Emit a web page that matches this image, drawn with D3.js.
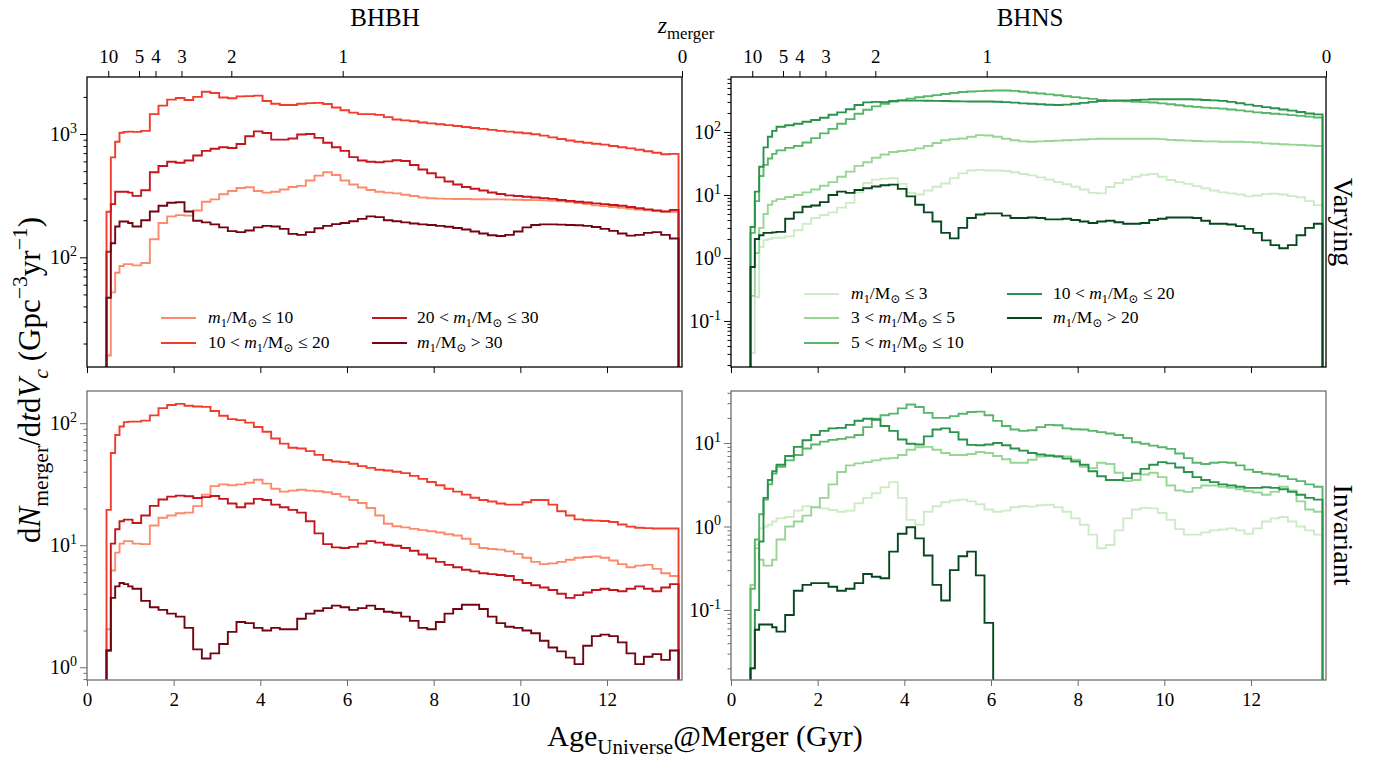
<!DOCTYPE html>
<html>
<head>
<meta charset="utf-8">
<script src="https://cdnjs.cloudflare.com/ajax/libs/d3/7.8.5/d3.min.js"></script>
<style>
body { margin: 0; background: #fff; }
</style>
</head>
<body>
<div id="chart"></div>
<script>
// histogram bin edges (Gyr), shared by every series
var binEdges = [0.45, 0.55, 0.65, 0.75, 0.85, 0.95, 1.05, 1.25, 1.45, 1.65, 1.85, 2.05, 2.25, 2.45, 2.65, 2.85,
    3.05, 3.25, 3.45, 3.65, 3.85, 4.05, 4.25, 4.45, 4.65, 4.85, 5.05, 5.25, 5.45, 5.65, 5.85, 6.05, 6.25, 6.45,
    6.65, 6.85, 7.05, 7.25, 7.45, 7.65, 7.85, 8.05, 8.25, 8.45, 8.65, 8.85, 9.05, 9.25, 9.45, 9.65, 9.85, 10.05,
    10.25, 10.45, 10.65, 10.85, 11.05, 11.25, 11.45, 11.65, 11.85, 12.05, 12.25, 12.45, 12.65, 12.85, 13.05,
    13.25, 13.45, 13.65];

var xTicks = [0, 2, 4, 6, 8, 10, 12];
var zTickAges = [0.49, 1.2, 1.58, 2.18, 3.33, 5.9, 13.73];
var zTickLabels = ["10", "5", "4", "3", "2", "1", "0"];

// BHBH, varying
var bhbhVarLe10 = [16, 52, 75, 85, 88, 88, 86, 90, 140, 190,
    215, 220, 218, 240, 282, 295, 325, 345, 365, 370,
    345, 335, 340, 355, 372, 380, 420, 460, 490, 465,
    420, 390, 368, 352, 340, 335, 330, 322, 314, 306,
    301, 299, 298, 297, 297, 296, 296, 295, 295, 294,
    293, 292, 291, 290, 288, 285, 281, 276, 270, 264,
    260, 256, 252, 248, 244, 241, 238, 235, 234];
var bhbhVar10to20 = [234, 647, 866, 1025, 1040, 1045, 1040, 1060, 1450, 1700,
    1900, 1960, 1890, 2000, 2200, 2150, 1980, 1950, 2020, 2030,
    2050, 1850, 1760, 1720, 1720, 1760, 1780, 1790, 1750, 1640,
    1560, 1490, 1450, 1450, 1430, 1370, 1310, 1290, 1270, 1240,
    1220, 1200, 1180, 1160, 1140, 1120, 1100, 1080, 1060, 1045,
    1030, 1015, 995, 970, 940, 910, 885, 865, 850, 835,
    820, 800, 780, 765, 745, 725, 705, 685, 690];
var bhbhVar20to30 = [111, 270, 340, 340, 340, 335, 315, 350, 490, 550,
    596, 585, 610, 670, 730, 760, 780, 770, 830, 960,
    1050, 1020, 900, 900, 920, 990, 1000, 930, 850, 780,
    730, 650, 610, 596, 590, 600, 612, 605, 560, 515,
    480, 445, 412, 390, 372, 360, 348, 336, 326, 318,
    314, 310, 306, 302, 298, 292, 287, 282, 278, 274,
    270, 266, 262, 256, 250, 245, 240, 235, 242];
var bhbhVarGt30 = [47, 130, 178, 195, 195, 190, 178, 200, 235, 262,
    277, 280, 235, 198, 192, 185, 175, 163, 160, 165,
    175, 180, 178, 170, 155, 152, 160, 172, 180, 186,
    190, 196, 205, 215, 212, 200, 196, 192, 188, 185,
    183, 180, 177, 173, 168, 162, 156, 151, 149, 152,
    162, 175, 183, 185, 185, 184, 183, 182, 180, 176,
    170, 164, 156, 150, 152, 158, 160, 152, 142];

// BHBH, invariant
var bhbhInvLe10 = [2.05, 6.2, 8.7, 10.3, 10.8, 10.8, 10.3, 10.2, 14.5, 16.8,
    17.5, 18.3, 18.5, 20.9, 26, 30.5, 31.5, 31, 31.5, 32.5,
    34.4, 32, 29, 27.5, 28, 28.5, 28, 27.7, 27.2, 26.3,
    25, 23.5, 22.2, 20.2, 17.5, 15, 14.3, 14.0, 13.6, 13.3,
    13, 12.7, 12.3, 12, 11.3, 10.2, 9.5, 9.3, 9.2, 8.9,
    8.5, 7.9, 7.3, 7.0, 7.1, 7.3, 7.6, 7.9, 8.0, 8.1,
    7.9, 7.5, 7.0, 6.6, 6.8, 6.9, 6.4, 5.9, 5.6];
var bhbhInv10to20 = [19.5, 57, 80, 94, 102, 103, 103, 105, 116, 133,
    141, 144, 139, 137, 136, 126, 115, 108, 106, 101,
    93, 85, 75, 68, 63, 62, 59, 55, 50, 48.5,
    48, 46.5, 44.5, 43, 41.6, 41, 40, 39, 37, 35,
    33, 31, 29, 27.5, 26, 24.5, 23.5, 22.8, 22, 21.5,
    21.5, 22.5, 23.5, 23.5, 21.5, 19, 17.5, 16.3, 16, 15.9,
    15.8, 15.5, 14.8, 14.2, 13.9, 13.8, 13.7, 13.7, 13.7];
var bhbhInv20to30 = [1.37, 10.3, 13.5, 15.7, 16.2, 16.2, 15.2, 17.5, 21, 23.7,
    25, 25.5, 25.2, 24.4, 24.8, 25.3, 24, 22, 20.5, 22,
    24, 23.5, 21.5, 20.5, 19.5, 18.5, 15.7, 12.5, 10.2, 9.6,
    9.5, 9.7, 10.3, 10.8, 10.5, 10.1, 9.9, 9.5, 9.0, 8.4,
    7.8, 7.3, 6.9, 6.6, 6.3, 6.1, 5.9, 5.8, 5.7, 5.6,
    5.2, 4.9, 4.7, 4.5, 4.3, 4.0, 3.7, 3.9, 4.1, 4.3,
    4.4, 4.3, 4.2, 4.4, 4.6, 4.4, 4.2, 4.5, 4.8];
var bhbhInvGt30 = [1.37, 3.7, 4.6, 4.9, 4.8, 4.6, 4.4, 3.5, 3.1, 2.95,
    2.75, 2.6, 2.1, 1.4, 1.18, 1.3, 1.55, 1.95, 2.35, 2.3,
    2.1, 2.0, 2.1, 2.05, 2.05, 2.5, 2.75, 2.9, 3.05, 3.2,
    3.1, 2.95, 3.05, 3.2, 3.0, 2.85, 2.8, 2.6, 2.4, 2.1,
    2.05, 2.35, 2.75, 3.0, 3.25, 3.25, 3.0, 2.6, 2.3, 2.15,
    2.1, 2.0, 1.9, 1.65, 1.45, 1.35, 1.2, 1.06, 1.5, 1.8,
    1.85, 1.8, 1.6, 1.3, 1.06, 1.22, 1.28, 1.15, 1.37];

// BHNS, varying
var bhnsVarLe3 = [0.031, 0.24, 1.5, 1.93, 2.0, 2.1, 2.1, 2.2, 2.75, 3.5,
    4.3, 4.8, 5.3, 6.3, 7.5, 11, 15.5, 17.5, 18.2, 18.5,
    15, 10.8, 10.2, 11.8, 13.5, 15.2, 18.5, 22, 24.5, 25,
    24.5, 24.5, 24, 23, 21.5, 20.5, 19, 17.5, 16, 14.8,
    13.5, 12.2, 10.8, 10.6, 13.4, 15.5, 17.5, 19.5, 21, 21.5,
    19.5, 17.3, 16, 15, 13.8, 12.8, 11.8, 11, 10.6, 10.2,
    9.5, 9.8, 10.3, 10.5, 10.2, 9.6, 9.2, 8.0, 6.9];
var bhnsVar3to5 = [0.25, 1.2, 3.0, 5.0, 7.0, 8.0, 8.6, 9.3, 10, 11,
    12.2, 14, 16, 19.5, 23.5, 29, 33, 39, 44, 48,
    50, 51.5, 55, 60, 67, 74, 77, 79, 84, 89,
    88, 84, 78, 74, 71, 70, 71, 72, 73, 74,
    75, 76, 77, 78, 78, 78, 78, 78, 78, 78,
    77, 75, 74, 73, 72, 71, 71, 70, 70, 70,
    69, 68, 66, 65, 64, 63, 62, 61, 60];
var bhnsVar5to10 = [2.5, 8, 20, 30, 38, 45, 51, 56, 60, 68,
    80, 95, 112, 135, 160, 195, 225, 255, 280, 305,
    320, 338, 355, 370, 385, 400, 415, 430, 440, 445,
    452, 455, 455, 450, 435, 420, 408, 395, 383, 370,
    358, 345, 335, 322, 315, 312, 307, 302, 298, 294,
    285, 275, 265, 256, 250, 244, 239, 235, 228, 220,
    212, 205, 200, 195, 190, 185, 180, 175, 170];
var bhnsVar10to20 = [3.1, 11.3, 28, 57, 84, 104, 121, 128, 135, 145,
    155, 168, 188, 205, 230, 268, 295, 300, 298, 310,
    315, 315, 315, 314, 312, 310, 308, 306, 305, 305,
    304, 302, 298, 292, 285, 280, 275, 270, 268, 272,
    280, 290, 300, 310, 314, 316, 318, 322, 326, 330,
    331, 331, 330, 330, 328, 322, 318, 312, 300, 286,
    272, 260, 248, 238, 228, 218, 208, 197, 190];
var bhnsVarGt20 = [0.72, 2.0, 2.3, 2.5, 2.5, 2.55, 2.6, 4.2, 5.3, 6.5,
    6.8, 7.7, 10, 11.3, 10.8, 12, 12.8, 13.6, 14.3, 14.6,
    12.5, 9.5, 7.0, 5.3, 3.8, 2.5, 2.05, 3.0, 4.3, 4.9,
    5.1, 5.1, 4.7, 4.3, 4.3, 4.4, 4.3, 4.1, 4.1, 4.2,
    4.0, 3.8, 3.6, 3.8, 3.9, 3.7, 3.5, 3.5, 3.6, 4.0,
    4.2, 4.4, 4.4, 4.4, 4.3, 3.9, 3.5, 3.5, 3.4, 3.2,
    2.9, 2.5, 1.9, 1.6, 1.43, 1.6, 2.3, 3.0, 3.5];

// BHNS, invariant
var bhnsInvLe3 = [0.2, 0.6, 0.95, 1.0, 1.05, 1.15, 1.25, 1.3, 1.55, 1.75,
    1.72, 1.65, 1.58, 1.5, 1.55, 1.9, 2.2, 2.5, 2.95, 3.4,
    2.2, 1.2, 1.05, 1.5, 1.75, 1.95, 2.05, 2.1, 2.0, 1.85,
    1.6, 1.5, 1.55, 1.7, 1.75, 1.73, 1.8, 1.82, 1.7, 1.5,
    1.25, 1.05, 0.8, 0.55, 0.6, 0.9, 1.25, 1.6, 1.67, 1.65,
    1.45, 1.2, 0.93, 0.8, 0.8, 0.85, 0.9, 0.92, 0.95, 0.9,
    0.82, 0.95, 1.15, 1.25, 1.3, 1.15, 1.0, 0.9, 0.8];
var bhnsInv3to5 = [0.2, 0.55, 0.4, 0.34, 0.34, 0.4, 0.7, 1.0, 1.15, 1.35,
    1.7, 2.2, 3.2, 4.5, 5.4, 5.7, 5.9, 6.2, 6.5, 6.6,
    7.2, 8.3, 8.9, 9.0, 8.3, 7.6, 7.2, 7.2, 7.4, 7.8,
    7.6, 7.0, 6.4, 5.8, 5.8, 6.3, 6.9, 7.0, 7.0, 6.9,
    6.3, 5.2, 5.0, 5.8, 5.6, 4.4, 3.5, 3.6, 4.2, 4.4,
    3.9, 3.1, 2.7, 2.6, 2.9, 3.1, 3.1, 3.0, 2.9, 2.8,
    2.65, 2.55, 2.4, 2.6, 3.0, 2.7, 2.0, 1.6, 1.5];
var bhnsInv5to10 = [0.18, 0.7, 1.4, 2.1, 3.2, 4.3, 5.2, 6.2, 7.2, 8.6,
    9.6, 10.4, 10.9, 11.2, 11.7, 12.5, 15.5, 19.5, 21.5, 22.5,
    26, 29, 27, 23, 20, 20, 21, 22.4, 23.5, 23.8,
    21.5, 18.4, 16, 14.5, 14, 14.2, 15.5, 16.5, 16.3, 15,
    14.6, 14.5, 14, 13.5, 13, 12.5, 11.5, 10.2, 9.8, 9.3,
    8.9, 8.5, 7.5, 6.6, 5.8, 5.6, 5.8, 5.9, 5.8, 5.4,
    4.8, 4.5, 4.3, 4.2, 4.0, 3.7, 3.5, 3.2, 3.0];
var bhnsInv10to20 = [0.02, 0.1, 0.66, 2.2, 3.6, 4.6, 5.5, 7.0, 9.0, 10.8,
    12.5, 14, 15, 15.2, 16.5, 18.5, 19.5, 19, 16, 14,
    11, 9.8, 9.6, 12, 14.5, 15, 13.5, 11, 9.5, 9.4,
    9.6, 10, 9.4, 8.6, 8.1, 7.6, 7.3, 7.1, 6.9, 6.5,
    6.0, 5.5, 4.6, 4.0, 3.6, 3.6, 3.8, 4.3, 4.9, 5.5,
    5.9, 5.7, 5.1, 4.5, 3.9, 3.6, 3.4, 3.2, 3.1, 3.0,
    2.9, 2.9, 2.95, 2.9, 2.8, 2.6, 2.4, 2.2, 2.1];
var bhnsInvGt20 = [0.02, 0.058, 0.067, 0.067, 0.067, 0.062, 0.055, 0.087, 0.17, 0.2,
    0.21, 0.21, 0.19, 0.17, 0.18, 0.21, 0.27, 0.25, 0.24, 0.5,
    0.82, 0.98, 0.72, 0.45, 0.2, 0.13, 0.3, 0.44, 0.5, 0.26,
    0.07];

var bhbhBounds = [[null, 10], [10, 20], [20, 30], [30, null]];
var bhnsBounds = [[null, 3], [3, 5], [5, 10], [10, 20], [20, null]];
var redColors = ["#fc8b6b", "#f03d2d", "#c4161c", "#730410"];
var greenColors = ["#cdebc6", "#98d594", "#57b668", "#2a924a", "#07471f"];

var ctx = {
    w: 1375,
    h: 765
};
var font = '"Liberation Serif", "DejaVu Serif", serif';

var panels = [
    {id: "tl", x0: 87, y0: 77, w: 595, h: 290, ydom: [12.9, 2900], frame: "#000", top: true, labels: false,
        series: [bhbhVarLe10, bhbhVar10to20, bhbhVar20to30, bhbhVarGt30], colors: redColors,
        legend: {bounds: bhbhBounds, cols: [[74, 121], [285, 330]], rows: [241, 266], perCol: 2}},
    {id: "bl", x0: 87, y0: 391, w: 595, h: 289, ydom: [0.786, 183.6], frame: "#6e6e6e", top: false, labels: true,
        series: [bhbhInvLe10, bhbhInv10to20, bhbhInv20to30, bhbhInvGt30], colors: redColors},
    {id: "tr", x0: 731, y0: 77, w: 595, h: 290, ydom: [0.0186, 746], frame: "#000", top: true, labels: false,
        series: [bhnsVarLe3, bhnsVar3to5, bhnsVar5to10, bhnsVar10to20, bhnsVarGt20], colors: greenColors,
        legend: {bounds: bhnsBounds, cols: [[73, 120], [276, 322]], rows: [217, 241, 266], perCol: 3}},
    {id: "br", x0: 731, y0: 391, w: 595, h: 289, ydom: [0.0145, 42], frame: "#6e6e6e", top: false, labels: true,
        series: [bhnsInvLe3, bhnsInv3to5, bhnsInv5to10, bhnsInv10to20, bhnsInvGt20], colors: greenColors}
];

// append tspans with italics / sub / superscripts
var addRich = function (textSel, parts, size) {
    var off = 0;
    parts.forEach(function (p) {
        var target = p.sub ? size * 0.25 : (p.sup ? -size * 0.42 : 0);
        var ts = textSel.append("tspan").text(p.t).attr("dy", target - off);
        off = target;
        if (p.sub || p.sup) ts.attr("font-size", size * 0.7);
        if (p.it) ts.style("font-style", "italic");
    });
};

var massParts = function (b) {
    var parts = [];
    if (b[0] != null && b[1] != null) parts.push({t: b[0] + " < "});
    parts.push({t: "m", it: true}, {t: "1", sub: true}, {t: "/M"}, {t: "\u2299", sub: true});
    if (b[1] != null) parts.push({t: " \u2264 " + b[1]});
    else parts.push({t: " > " + b[0]});
    return parts;
};

var svg = d3.select("#chart").append("svg")
    .attr("width", ctx.w)
    .attr("height", ctx.h)
    .style("font-family", font);

var drawPanel = function (p) {
    var g = svg.append("g").attr("transform", "translate(" + p.x0 + "," + p.y0 + ")");
    var x = d3.scaleLinear().domain([0, 13.73]).range([0, p.w]);
    var y = d3.scaleLog().domain(p.ydom).range([p.h, 0]);

    g.append("clipPath").attr("id", "clip-" + p.id)
        .append("rect").attr("width", p.w).attr("height", p.h);

    var line = d3.line()
        .x(function (d) { return x(d[0]); })
        .y(function (d) { return d[1] > 0 ? y(d[1]) : p.h + 20; })
        .curve(d3.curveStepAfter);

    var lines = g.append("g").attr("clip-path", "url(#clip-" + p.id + ")");
    p.series.forEach(function (vals, k) {
        var pts = [[binEdges[0], 0]];
        vals.forEach(function (v, i) { pts.push([binEdges[i], v]); });
        pts.push([binEdges[vals.length], vals[vals.length - 1]]);
        pts.push([binEdges[vals.length], 0]);
        lines.append("path")
            .attr("d", line(pts))
            .attr("fill", "none")
            .attr("stroke", p.colors[k])
            .attr("stroke-width", 1.9)
            .attr("stroke-linejoin", "miter");
    });

    // y ticks
    var lo = Math.floor(Math.log10(p.ydom[0])), hi = Math.ceil(Math.log10(p.ydom[1]));
    var majors = [], minors = [];
    for (var e = lo; e <= hi; e++) {
        var base = Math.pow(10, e);
        if (base >= p.ydom[0] && base <= p.ydom[1]) majors.push(e);
        for (var m = 2; m < 10; m++) {
            var v = m * base;
            if (v >= p.ydom[0] && v <= p.ydom[1]) minors.push(v);
        }
    }
    var yMinor = g.append("g").call(d3.axisLeft(y).tickValues(minors).tickSize(3.5).tickFormat(""));
    var yMajor = g.append("g").call(d3.axisLeft(y).tickValues(majors.map(function (e) { return Math.pow(10, e); }))
        .tickSize(7).tickFormat(""));
    [yMinor, yMajor].forEach(function (a) {
        a.select(".domain").remove();
        a.selectAll("line").attr("stroke", p.frame);
    });
    majors.forEach(function (e) {
        var t = g.append("text")
            .attr("x", -10).attr("y", y(Math.pow(10, e)) + 7)
            .attr("text-anchor", "end")
            .attr("font-size", 20);
        addRich(t, [{t: "10"}, {t: String(e), sup: true}], 20);
    });

    // x ticks
    var xa = g.append("g").attr("transform", "translate(0," + p.h + ")")
        .call(d3.axisBottom(x).tickValues(xTicks).tickSize(6).tickPadding(7)
            .tickFormat(p.labels ? d3.format("d") : ""));
    xa.select(".domain").remove();
    xa.selectAll("line").attr("stroke", p.frame);
    xa.selectAll("text").attr("font-size", 19).attr("font-family", font).attr("fill", "#000");

    if (p.top) {
        var za = g.append("g")
            .call(d3.axisTop(x).tickValues(zTickAges).tickSize(6).tickPadding(8)
                .tickFormat(function (d, i) { return zTickLabels[i]; }));
        za.select(".domain").remove();
        za.selectAll("text").attr("font-size", 19).attr("font-family", font);
    }

    g.append("rect")
        .attr("width", p.w).attr("height", p.h)
        .attr("fill", "none")
        .attr("stroke", p.frame)
        .attr("stroke-width", 1.3);

    if (p.legend) {
        p.legend.bounds.forEach(function (b, k) {
            var col = p.legend.cols[Math.floor(k / p.legend.perCol)];
            var ry = p.legend.rows[k % p.legend.perCol];
            g.append("line")
                .attr("x1", col[0]).attr("x2", col[0] + 35)
                .attr("y1", ry).attr("y2", ry)
                .attr("stroke", p.colors[k]).attr("stroke-width", 1.9);
            var t = g.append("text").attr("x", col[1]).attr("y", ry + 5).attr("font-size", 17.5);
            addRich(t, massParts(b), 17.5);
        });
    }
};

panels.forEach(drawPanel);

// titles and axis labels
svg.append("text").attr("x", 385).attr("y", 26).attr("text-anchor", "middle")
    .attr("font-size", 25).text("BHBH");
svg.append("text").attr("x", 1030).attr("y", 26).attr("text-anchor", "middle")
    .attr("font-size", 25).text("BHNS");

var zl = svg.append("text").attr("x", 686).attr("y", 33).attr("text-anchor", "middle").attr("font-size", 24);
addRich(zl, [{t: "z", it: true}, {t: "merger", sub: true}], 24);

var yl = svg.append("text")
    .attr("transform", "translate(40,380) rotate(-90)")
    .attr("text-anchor", "middle")
    .attr("font-size", 31);
addRich(yl, [{t: "d"}, {t: "N", it: true}, {t: "merger", sub: true}, {t: "/d"}, {t: "t", it: true},
    {t: "d"}, {t: "V", it: true}, {t: "c", sub: true, it: true}, {t: " (Gpc"}, {t: "\u22123", sup: true},
    {t: "yr"}, {t: "\u22121", sup: true}, {t: ")"}], 31);

var xl = svg.append("text").attr("x", 705).attr("y", 746).attr("text-anchor", "middle").attr("font-size", 30);
addRich(xl, [{t: "Age"}, {t: "Universe", sub: true}, {t: "@Merger (Gyr)"}], 30);

svg.append("text").attr("transform", "translate(1334,222) rotate(90)")
    .attr("text-anchor", "middle").attr("font-size", 28).text("Varying");
svg.append("text").attr("transform", "translate(1334,535) rotate(90)")
    .attr("text-anchor", "middle").attr("font-size", 28).text("Invariant");
</script>
</body>
</html>
